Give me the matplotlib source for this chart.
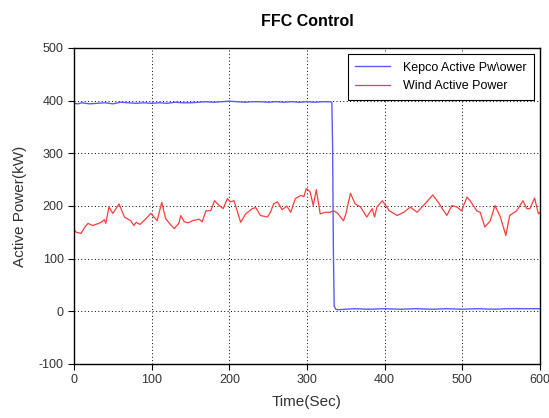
import numpy as np
import matplotlib
matplotlib.use('Agg')
import matplotlib.pyplot as plt

plt.rcParams['font.family'] = ['Liberation Sans', 'DejaVu Sans']
plt.rcParams['axes.unicode_minus'] = False

# values
kepco_t = [0, 5, 10, 20, 30, 40, 50, 60, 70, 80, 90, 100, 110, 120, 130, 140, 150,
           160, 170, 180, 190, 200, 210, 220, 230, 240, 250, 260, 270, 280, 290,
           300, 310, 320, 330, 332, 333, 334, 335, 337, 340, 350, 360, 380, 400,
           420, 440, 460, 480, 500, 520, 540, 560, 580, 600]
kepco_p = [395, 394, 396, 394, 395, 396, 394, 397, 396, 395, 396, 395, 396, 395,
           397, 396, 396, 397, 398, 397, 398, 399, 398, 397, 398, 398, 397, 398,
           397, 398, 397, 398, 397, 398, 398, 397, 310, 110, 10, 4, 3, 4, 5, 4,
           5, 4, 5, 4, 5, 4, 5, 4, 5, 5, 5]

wind_t = [0, 3, 9, 14, 18, 24, 30, 35, 39, 41, 45, 50, 58, 65, 73, 77, 80, 85,
          92, 99, 107, 113, 118, 124, 129, 135, 137.5, 142, 147, 152.5, 161, 165,
          170, 176, 181, 187, 192, 197.5, 201, 206, 214.6, 221, 229.6, 234, 240,
          249, 253, 257, 262, 268, 274, 279, 285, 292, 296, 299, 304, 308, 312,
          317, 323, 330, 334, 339, 347, 350, 356, 362, 369, 377, 384, 387, 390,
          397, 406, 416, 424.5, 433, 441.6, 450, 462, 469, 476, 480, 486.6, 493,
          499, 506, 510, 518.5, 523, 529, 536, 542, 549, 556, 561, 570, 578, 583,
          587, 593, 598, 600]
wind_p = [155, 150, 148, 160, 167, 163, 166, 169, 174, 167, 198, 186, 204, 179,
          172, 163, 169, 165, 175, 186, 172, 207, 176, 165, 157, 167, 182, 170,
          168, 172, 175, 170, 191, 191, 210, 201, 195, 214, 208, 210, 169, 185,
          195, 197, 182, 179, 188, 204, 208, 193, 200, 188, 214, 220, 218, 233,
          227, 201, 231, 185, 188, 188, 191, 187, 172, 185, 224, 204, 198, 179,
          195, 179, 198, 210, 191, 182, 188, 198, 188, 201, 221, 207, 191, 182,
          201, 198, 191, 217, 210, 191, 188, 160, 172, 201, 179, 144, 182, 191,
          210, 195, 195, 215, 185, 188]

fig = plt.figure(figsize=(5.49, 4.18), dpi=100)
ax = fig.add_axes([74 / 549, 1 - 364 / 418, 466 / 549, 316 / 418])

ax.plot(kepco_t, kepco_p, color='#5a5aff', lw=1.0, label='Kepco Active Pw\\ower')
ax.plot(wind_t, wind_p, color='#ff3c3c', lw=0.9, label='Wind Active Power')

ax.set_xlim(0, 600)
ax.set_ylim(-100, 500)
ax.set_xticks(np.arange(0, 601, 100))
ax.set_yticks(np.arange(-100, 501, 100))
ax.grid(True, color='black', linestyle=(0, (1, 2.5)), linewidth=0.7)
ax.tick_params(direction='out', length=4, labelsize=9, colors='black',
               labelcolor='#333333')
for s in ax.spines.values():
    s.set_linewidth(1.0)

ax.set_xlabel('Time(Sec)', fontsize=11, color='#333333', labelpad=6)
ax.set_ylabel('Active Power(kW)', fontsize=11, color='#333333', labelpad=8)
ax.set_title('FFC Control', fontsize=11.5, fontweight='bold', pad=16)

leg = ax.legend(loc='upper right', fontsize=9, fancybox=False, framealpha=1,
                edgecolor='black', borderaxespad=0.5, handlelength=2.8,
                handletextpad=1.0, borderpad=0.6)
leg.get_frame().set_linewidth(0.8)

fig.savefig('out.png', dpi=100)
